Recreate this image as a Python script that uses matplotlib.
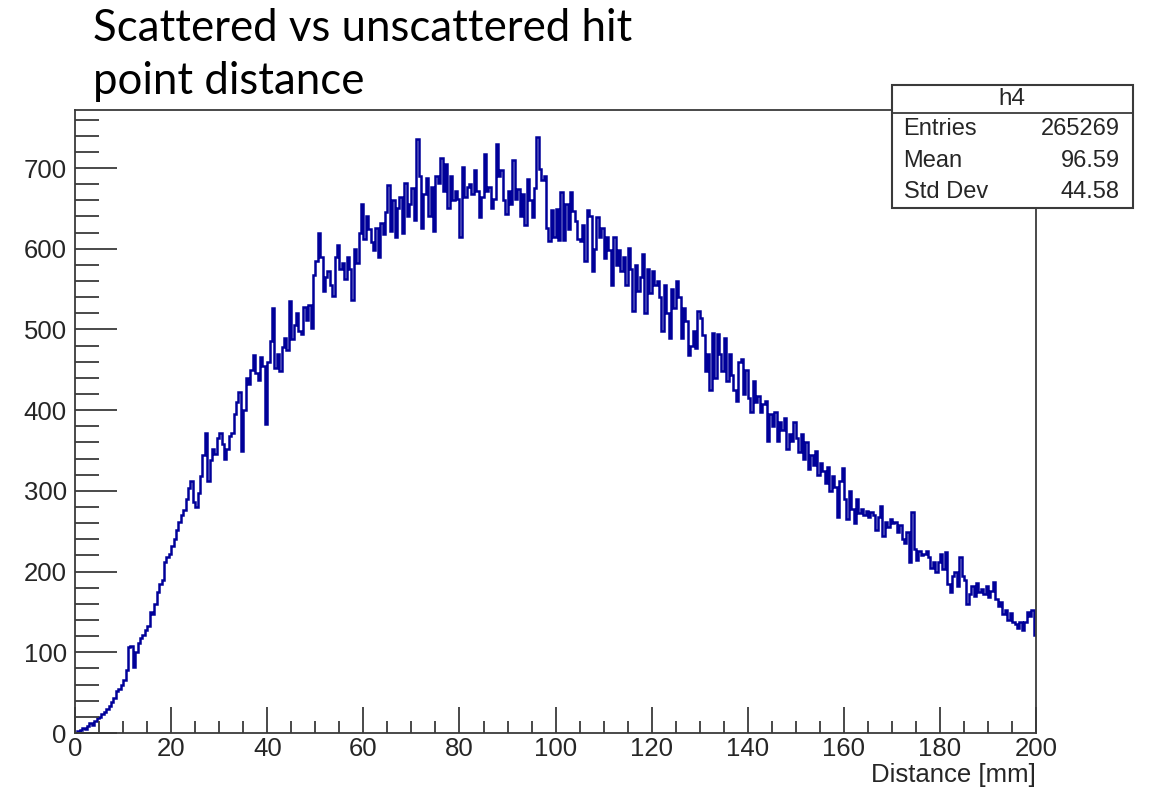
import numpy as np
import matplotlib
matplotlib.use("Agg")
from matplotlib import pyplot as plt
from matplotlib.patches import Rectangle
from matplotlib.ticker import MultipleLocator

# h4: distance between scattered and unscattered hit points, 0.5 mm bins
x_min, x_max = 0, 200
counts = [
    # 0 - 10 mm
    0, 2, 4, 6, 5, 9, 13, 10, 15, 18, 20, 23, 26, 30, 34, 38, 44, 52, 55, 60,
    # 10 - 20 mm
    66, 78, 106, 108, 82, 100, 112, 118, 122, 128, 132, 150, 148, 160, 175, 185, 190, 212, 218, 222,
    # 20 - 30 mm
    232, 240, 252, 262, 270, 276, 290, 304, 312, 286, 280, 298, 318, 345, 372, 312, 338, 352, 346, 365,
    # 30 - 40 mm
    372, 358, 340, 352, 368, 372, 395, 410, 423, 349, 400, 440, 432, 450, 468, 446, 438, 466, 455, 383,
    # 40 - 50 mm
    460, 486, 527, 452, 470, 448, 478, 490, 474, 535, 488, 505, 520, 498, 495, 528, 512, 530, 502, 568,
    # 50 - 60 mm
    585, 620, 590, 548, 565, 572, 555, 542, 590, 605, 575, 582, 562, 590, 575, 537, 600, 582, 620, 655,
    # 60 - 70 mm
    612, 640, 625, 608, 598, 626, 590, 632, 618, 645, 679, 622, 660, 614, 650, 664, 620, 682, 640, 655,
    # 70 - 80 mm
    675, 636, 736, 690, 626, 668, 688, 640, 676, 622, 690, 682, 713, 672, 705, 650, 690, 660, 672, 662,
    # 80 - 90 mm
    614, 701, 664, 676, 680, 668, 697, 672, 639, 664, 717, 672, 676, 651, 662, 730, 690, 697, 660, 643,
    # 90 - 100 mm
    672, 655, 710, 662, 674, 640, 668, 630, 686, 660, 639, 675, 738, 699, 685, 690, 626, 610, 648, 614,
    # 100 - 110 mm
    649, 611, 670, 611, 655, 625, 670, 647, 635, 612, 610, 630, 585, 648, 640, 573, 600, 639, 614, 626,
    # 110 - 120 mm
    589, 615, 598, 555, 614, 580, 598, 573, 590, 555, 601, 575, 523, 580, 548, 565, 593, 521, 575, 545,
    # 120 - 130 mm
    573, 555, 560, 540, 498, 555, 520, 489, 550, 527, 560, 540, 489, 527, 511, 468, 480, 498, 477, 523,
    # 130 - 140 mm
    514, 493, 448, 470, 425, 496, 440, 494, 470, 448, 489, 436, 470, 443, 425, 411, 460, 464, 420, 450,
    # 140 - 150 mm
    415, 398, 436, 410, 418, 398, 408, 412, 362, 395, 380, 398, 362, 385, 375, 390, 352, 370, 362, 385,
    # 150 - 160 mm
    365, 348, 370, 340, 360, 327, 345, 332, 350, 320, 335, 325, 310, 330, 300, 318, 305, 268, 312, 328,
    # 160 - 170 mm
    290, 265, 300, 278, 260, 290, 272, 278, 270, 275, 268, 274, 270, 252, 268, 281, 244, 262, 255, 265,
    # 170 - 180 mm
    260, 262, 249, 258, 240, 236, 249, 212, 274, 228, 214, 225, 220, 222, 225, 218, 205, 212, 200, 212,
    # 180 - 190 mm
    222, 203, 224, 185, 175, 194, 200, 182, 218, 195, 190, 160, 172, 182, 170, 186, 175, 178, 172, 182,
    # 190 - 200 mm
    168, 176, 187, 166, 158, 162, 148, 152, 140, 149, 138, 135, 130, 138, 128, 138, 150, 145, 153, 122,
]
stat_names = ["Entries", "Mean", "Std Dev"]
stat_values = ["265269", "96.59", "44.58"]

line_color = "#000099"
text_color = "#262626"
frame_color = "#3a3a3a"

plt.rcParams["font.family"] = ["Liberation Sans", "DejaVu Sans"]

fig = plt.figure(figsize=(11.51, 7.91), dpi=100)
ax = fig.add_axes([0.0652, 0.0733, 0.835, 0.7877])

edges = np.linspace(x_min, x_max, len(counts) + 1)
ax.stairs(counts, edges, color=line_color, linewidth=1.8, baseline=None)

ax.set_xlim(x_min, x_max)
ax.set_ylim(0, 772)
ax.xaxis.set_major_locator(MultipleLocator(20))
ax.xaxis.set_minor_locator(MultipleLocator(5))
ax.yaxis.set_major_locator(MultipleLocator(100))
ax.yaxis.set_minor_locator(MultipleLocator(20))
ax.tick_params(axis="both", which="both", direction="in", colors=frame_color,
               labelcolor=text_color, labelsize=18.5, width=1.3,
               top=False, right=False)
ax.tick_params(axis="y", which="major", length=30, pad=6)
ax.tick_params(axis="y", which="minor", length=17)
ax.tick_params(axis="x", which="major", length=19, pad=3)
ax.tick_params(axis="x", which="minor", length=9)
for sp in ax.spines.values():
    sp.set_color(frame_color)
    sp.set_linewidth(1.3)

ax.set_xlabel("Distance [mm]", fontsize=18.5, color=text_color, loc="right", labelpad=1)

# stats box in the upper right corner, drawn over the frame
bx0, bx1 = 0.775, 0.984
by0, by_mid, by1 = 0.737, 0.857, 0.8925
fig.patches.append(Rectangle((bx0, by0), bx1 - bx0, by1 - by0, transform=fig.transFigure,
                             facecolor="white", edgecolor=frame_color, linewidth=1.5, zorder=5))
fig.lines.append(plt.Line2D([bx0, bx1], [by_mid, by_mid], transform=fig.transFigure,
                            color=frame_color, linewidth=1.3, zorder=6))
fig.text((bx0 + bx1) / 2, (by_mid + by1) / 2, "h4", ha="center", va="center",
         fontsize=17.5, color=text_color, zorder=7)
row_h = (by_mid - by0) / 3
for i, (name, val) in enumerate(zip(stat_names, stat_values)):
    yy = by_mid - row_h * (i + 0.5)
    fig.text(bx0 + 0.010, yy, name, ha="left", va="center", fontsize=17,
             color=text_color, zorder=7)
    fig.text(bx1 - 0.011, yy, val, ha="right", va="center", fontsize=17,
             color=text_color, zorder=7)

fig.text(0.081, 0.990, "Scattered vs unscattered hit\npoint distance", ha="left", va="top",
         fontsize=31.5, family=["Lato", "DejaVu Sans"], color="black", linespacing=1.38)

fig.savefig("out.png", dpi=100, facecolor="white")
